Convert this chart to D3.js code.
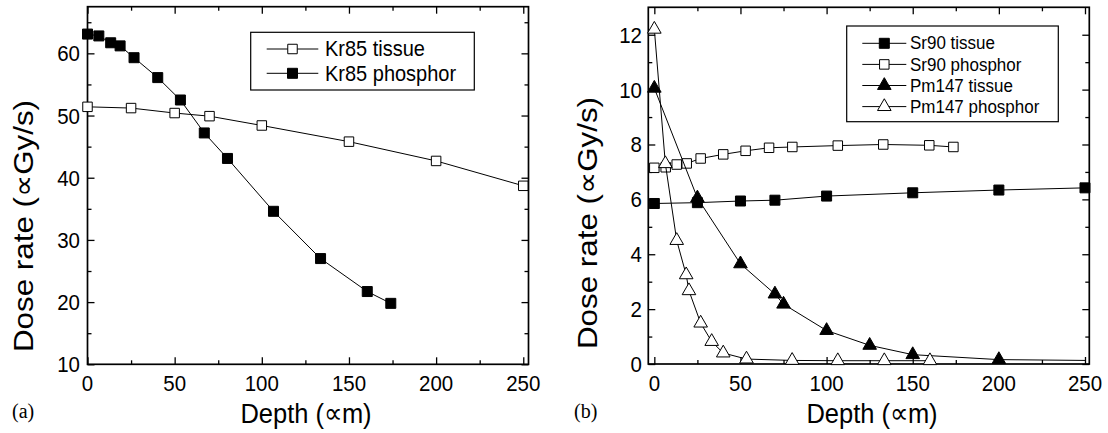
<!DOCTYPE html>
<html><head><meta charset="utf-8">
<script src="https://cdn.jsdelivr.net/npm/d3@7"></script>
<style>body{margin:0;background:#fff} svg{display:block}</style>
</head><body><svg id="c" width="1108" height="433"></svg>
<script>
// ---------- data ----------
const depthTissue = [0, 25, 50, 70, 100, 150, 200, 250];
const kr85Tissue = [51.4, 51.2, 50.4, 49.9, 48.4, 45.8, 42.7, 38.7];
const depthKr85Phos = [0, 6.5, 13.3, 18.7, 26.7, 40.3, 53.3, 67, 80.3, 106.7, 133.7, 160.5, 174];
const kr85Phos = [63.1, 62.8, 61.7, 61.2, 59.3, 56.1, 52.5, 47.2, 43.1, 34.6, 27.0, 21.7, 19.8];

const sr90Tissue = [5.85, 5.88, 5.94, 5.97, 6.12, 6.24, 6.34, 6.42];
const depthSr90Phos = [0, 6.6, 13, 18.8, 26.9, 40, 53, 66.6, 80.1, 106.5, 132.9, 159.6, 173.6];
const sr90Phos = [7.15, 7.17, 7.27, 7.31, 7.49, 7.64, 7.77, 7.88, 7.91, 7.96, 8.0, 7.97, 7.91];
const depthPm147Tissue = [0, 25, 50, 70, 75, 100, 125, 150, 200, 250];
const pm147Tissue = [10.05, 6.05, 3.65, 2.55, 2.18, 1.22, 0.68, 0.34, 0.16, 0.13];
const pm147TissueMarkerCount = 9; // last line point has no marker
const depthPm147Phos = [0, 6.4, 13, 18.5, 20.1, 26.9, 33.3, 40, 53.5, 80, 106.5, 133.5, 160];
const pm147Phos = [12.2, 7.3, 4.5, 3.25, 2.67, 1.49, 0.82, 0.4, 0.18, 0.13, 0.12, 0.12, 0.12];

const xTicks = [0, 50, 100, 150, 200, 250];
const xMinorTicks = [25, 75, 125, 175, 225];
const yTicksA = [10, 20, 30, 40, 50, 60];
const yMinorA = [15, 25, 35, 45, 55, 65];
const yTicksB = [0, 2, 4, 6, 8, 10, 12];
const yMinorB = [1, 3, 5, 7, 9, 11];

const legendA = ["Kr85 tissue", "Kr85 phosphor"];
const legendB = ["Sr90 tissue", "Sr90 phosphor", "Pm147 tissue", "Pm147 phosphor"];
const xTitle = "Depth (\u221Dm)";
const yTitle = "Dose rate (\u221DGy/s)";

// ---------- drawing ----------
const SY = 1.12;
const FONT = 'Arial, "Liberation Sans", Helvetica, sans-serif';
const svg = d3.select('#c');

function sym(type, filled, size) {
  return {path: d3.symbol().type(type).size(size)(), filled};
}
const SQ_F = sym(d3.symbolSquare, true, 100);
const SQ_O = sym(d3.symbolSquare, false, 90);
const TR_F = sym(d3.symbolTriangle, true, 80);
const TR_O = sym(d3.symbolTriangle, false, 80);

function stext(g, x, y, str, size, anchor) {
  return g.append('text')
    .attr('transform', `translate(${x},${y}) scale(1,${SY})`)
    .attr('text-anchor', anchor)
    .attr('font-family', FONT).attr('font-size', size)
    .text(str);
}

function panel(cfg) {
  const {x, y, yMajor, yMinor, yLabelRight, yTitleX, yTitleY, xTitleX, tag, tagX} = cfg;
  const g = svg.append('g');
  const [xl, xr] = x.range();
  const [yb, yt] = y.range();
  const tickAxis = (axis, pos, vals, len) => {
    const a = g.append('g').attr('transform', pos)
      .call(axis.tickValues(vals).tickSizeInner(-len).tickSizeOuter(0).tickFormat(''));
    a.select('.domain').remove();
    a.selectAll('line').attr('stroke', '#000').attr('stroke-width', 1.3);
  };
  tickAxis(d3.axisBottom(x), `translate(0,${yb})`, xTicks, 7);
  tickAxis(d3.axisBottom(x), `translate(0,${yb})`, xMinorTicks, 4);
  tickAxis(d3.axisTop(x), `translate(0,${yt})`, xTicks, 7);
  tickAxis(d3.axisTop(x), `translate(0,${yt})`, xMinorTicks, 4);
  tickAxis(d3.axisLeft(y), `translate(${xl},0)`, yMajor, 7);
  tickAxis(d3.axisLeft(y), `translate(${xl},0)`, yMinor, 4);
  tickAxis(d3.axisRight(y), `translate(${xr},0)`, yMajor, 7);
  tickAxis(d3.axisRight(y), `translate(${xr},0)`, yMinor, 4);
  g.append('rect').attr('x', xl).attr('y', yt).attr('width', xr - xl).attr('height', yb - yt)
    .attr('fill', 'none').attr('stroke', '#000').attr('stroke-width', 1.7);

  xTicks.forEach(v => stext(g, x(v), 391, String(v), 20.5, 'middle'));
  yMajor.forEach(v => stext(g, yLabelRight, y(v) + 8, String(v), 20.5, 'end'));

  stext(g, xTitleX, 423, xTitle, 25.5, 'middle');
  g.append('text')
    .attr('transform', `translate(${yTitleX},${yTitleY}) scale(1,${SY}) rotate(-90)`)
    .attr('text-anchor', 'middle').attr('font-family', FONT).attr('font-size', 28)
    .text(yTitle);
  g.append('text').attr('x', tagX).attr('y', 418)
    .attr('font-family', '"Liberation Serif", "Times New Roman", serif').attr('font-size', 20)
    .text(tag);
  return g;
}

function series(g, x, y, xs, ys, marker, nMarkers) {
  const pts = xs.map((d, i) => [d, ys[i]]);
  g.append('path').datum(pts)
    .attr('d', d3.line().x(d => x(d[0])).y(d => y(d[1])))
    .attr('fill', 'none').attr('stroke', '#000').attr('stroke-width', 1);
  g.selectAll(null).data(pts.slice(0, nMarkers ?? pts.length)).join('path')
    .attr('transform', d => `translate(${x(d[0])},${y(d[1])})`)
    .attr('d', marker.path)
    .attr('fill', marker.filled ? '#000' : '#fff')
    .attr('stroke', '#000').attr('stroke-width', 1);
}

function legend(g, box, rowY, lineX0, lineX1, textX, size, items) {
  g.append('rect').attr('x', box[0]).attr('y', box[1]).attr('width', box[2]).attr('height', box[3])
    .attr('fill', '#fff').attr('stroke', '#000').attr('stroke-width', 1.2);
  items.forEach((it, i) => {
    const yy = rowY[i];
    g.append('line').attr('x1', lineX0).attr('x2', lineX1).attr('y1', yy).attr('y2', yy)
      .attr('stroke', '#000').attr('stroke-width', 1);
    g.append('path').attr('transform', `translate(${(lineX0 + lineX1) / 2},${yy})`)
      .attr('d', it.marker.path).attr('fill', it.marker.filled ? '#000' : '#fff')
      .attr('stroke', '#000').attr('stroke-width', 1);
    stext(g, textX, yy + size * 0.36, it.label, size, 'start');
  });
}

// Panel (a)
const xA = d3.scaleLinear().domain([0, 253]).range([87.5, 528.5]);
const yA = d3.scaleLinear().domain([10, 67.5]).range([364.3, 6.7]);
const gA = panel({x: xA, y: yA, yMajor: yTicksA, yMinor: yMinorA, yLabelRight: 80,
  yTitleX: 33, yTitleY: 226, xTitleX: 306, tag: '(a)', tagX: 12});
series(gA, xA, yA, depthTissue, kr85Tissue, SQ_O);
series(gA, xA, yA, depthKr85Phos, kr85Phos, SQ_F);
legend(gA, [250.7, 32.3, 223.6, 57.7], [49, 73.3], 266.7, 318.3, 325, 20,
  [{label: legendA[0], marker: SQ_O}, {label: legendA[1], marker: SQ_F}]);

// Panel (b)
const xB = d3.scaleLinear().domain([-3.5, 252.5]).range([648.3, 1089.3]);
const yB = d3.scaleLinear().domain([0, 13]).range([364, 7.3]);
const gB = panel({x: xB, y: yB, yMajor: yTicksB, yMinor: yMinorB, yLabelRight: 642,
  yTitleX: 597, yTitleY: 223, xTitleX: 872, tag: '(b)', tagX: 574});
series(gB, xB, yB, depthTissue, sr90Tissue, SQ_F);
series(gB, xB, yB, depthSr90Phos, sr90Phos, SQ_O);
series(gB, xB, yB, depthPm147Tissue, pm147Tissue, TR_F, pm147TissueMarkerCount);
series(gB, xB, yB, depthPm147Phos, pm147Phos, TR_O);
legend(gB, [846.7, 26, 211.6, 95.7], [43.3, 64.4, 85.5, 106.6], 862.3, 906.3, 910, 17,
  [{label: legendB[0], marker: SQ_F}, {label: legendB[1], marker: SQ_O},
   {label: legendB[2], marker: TR_F}, {label: legendB[3], marker: TR_O}]);
</script></body></html>
